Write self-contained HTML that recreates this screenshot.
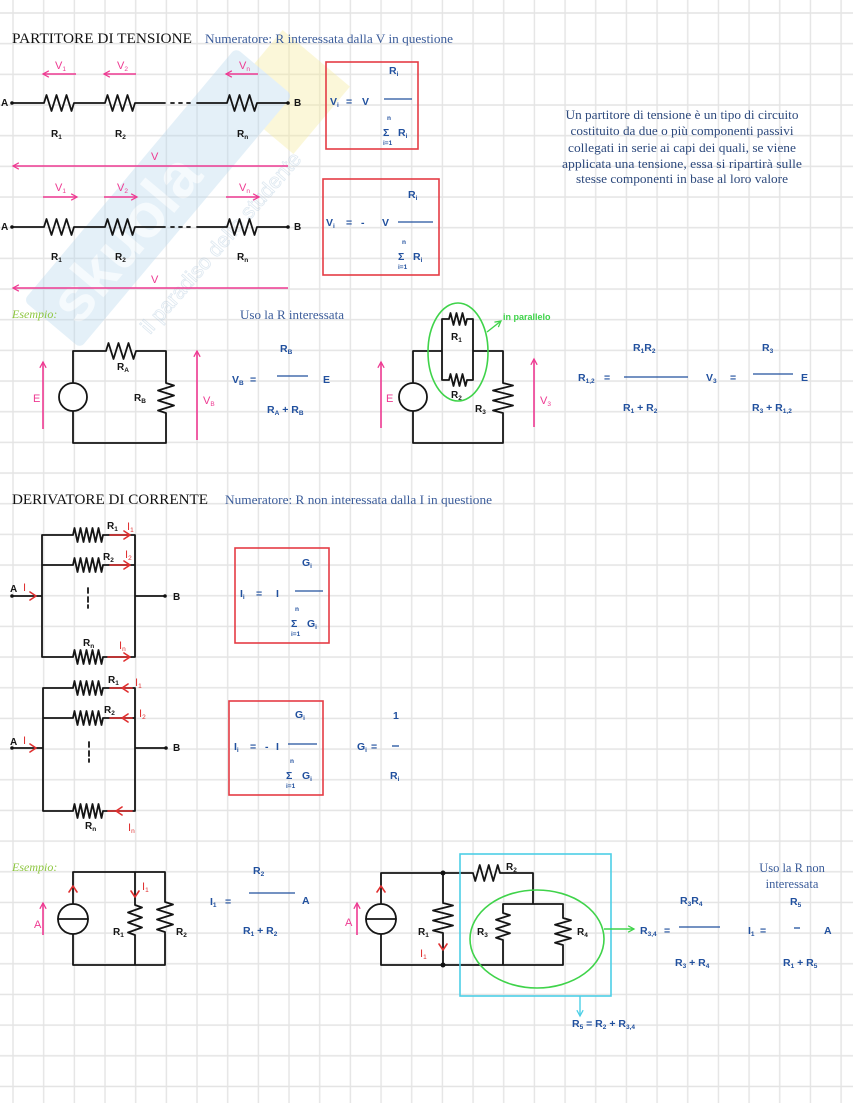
<!DOCTYPE html>
<html><head><meta charset="utf-8"><style>
html,body{margin:0;padding:0;background:#fff;}
svg{display:block;}
.w{fill:none;stroke:#151515;stroke-width:1.8;stroke-linejoin:round;stroke-linecap:round}
.t{font-family:"Liberation Sans",sans-serif;font-weight:bold;font-size:10px;fill:#151515}
.b{font-family:"Liberation Sans",sans-serif;font-weight:bold;font-size:10.5px;fill:#21509e}
.p{font-family:"Liberation Sans",sans-serif;font-size:11px;fill:#ee3a92}
.r{font-family:"Liberation Sans",sans-serif;font-size:11px;fill:#e03030}
.s{font-size:6.5px}
.ser{font-family:"Liberation Serif",serif;font-weight:normal}
.bar{stroke:#21509e;stroke-width:1.3;fill:none}
.pl{stroke:#ee3a92;stroke-width:1.6;fill:none}
.rl{stroke:#e03030;stroke-width:1.6;fill:none;stroke-linejoin:round;stroke-linecap:round}
.box{fill:none;stroke:#e43c45;stroke-width:1.6}
</style></head><body>
<svg width="853" height="1103" viewBox="0 0 853 1103" xmlns="http://www.w3.org/2000/svg">
<defs>
<pattern id="g" x="-2.33" y="-2.33" width="30.67" height="30.67" patternUnits="userSpaceOnUse">
<path d="M15.33,0 V30.67 M0,15.33 H30.67" stroke="#e4e4e4" stroke-width="1.4" fill="none"/>
</pattern>
<marker id="ap" viewBox="0 0 10 10" refX="8.5" refY="5" markerWidth="9" markerHeight="9" markerUnits="userSpaceOnUse" orient="auto"><path d="M2,1.5 L8.5,5 L2,8.5" fill="none" stroke="#ee3a92" stroke-width="1.4"/></marker>
<marker id="ag" viewBox="0 0 10 10" refX="8.5" refY="5" markerWidth="9" markerHeight="9" markerUnits="userSpaceOnUse" orient="auto"><path d="M2,1.5 L8.5,5 L2,8.5" fill="none" stroke="#3fd34a" stroke-width="1.4"/></marker>
<marker id="ac" viewBox="0 0 10 10" refX="8.5" refY="5" markerWidth="9" markerHeight="9" markerUnits="userSpaceOnUse" orient="auto"><path d="M2,1.5 L8.5,5 L2,8.5" fill="none" stroke="#4dcfe6" stroke-width="1.4"/></marker>
</defs>
<rect width="853" height="1103" fill="#fff"/>
<rect width="853" height="1103" fill="url(#g)"/>

<!-- watermark -->
<g opacity="0.38">
<g transform="translate(288,92) rotate(-50)"><rect x="-44" y="-44" width="88" height="88" fill="#f7ec9c"/></g>
<g transform="translate(158,198) rotate(-50)">
<rect x="-165" y="-37" width="330" height="74" rx="6" fill="#b9d9ee"/>
<text x="-150" y="22" font-size="62" font-weight="bold" font-family="Liberation Sans, sans-serif" fill="#e6f2fa">skuola</text>
</g>
<text transform="translate(150,335) rotate(-49)" font-size="21" font-family="Liberation Sans, sans-serif" fill="none" stroke="#aac4da" stroke-width="0.8">il paradiso dello studente</text>
</g>

<!-- ================= PARTITORE ================= -->
<text class="ser" x="12" y="43" font-size="15" fill="#111" textLength="180" lengthAdjust="spacingAndGlyphs">PARTITORE DI TENSIONE</text>
<text class="ser" x="205" y="43" font-size="12.5" fill="#3b5c9a" textLength="248" lengthAdjust="spacingAndGlyphs">Numeratore: R interessata dalla V in questione</text>

<!-- row 1 -->
<path class="w" d="M12,103 H44 l2.5,-8 l5,16 l5,-16 l5,16 l5,-16 l5,16 l2.5,-8 H105 l2.5,-8 l5,16 l5,-16 l5,16 l5,-16 l5,16 l2.5,-8 H165 M171,103 h3 M179,103 h3 M187,103 h3 M197,103 H227 l2.5,-8 l5,16 l5,-16 l5,16 l5,-16 l5,16 l2.5,-8 H288"/>
<circle cx="12" cy="103" r="1.8" fill="#111"/><circle cx="288" cy="103" r="1.8" fill="#111"/>
<text class="t" x="1" y="106" font-size="8">A</text><text class="t" x="294" y="106" font-size="8">B</text>
<text class="t" x="51" y="137">R<tspan class="s" dy="2">1</tspan></text>
<text class="t" x="115" y="137">R<tspan class="s" dy="2">2</tspan></text>
<text class="t" x="237" y="137">R<tspan class="s" dy="2">n</tspan></text>
<path class="pl" d="M76,74 H43" marker-end="url(#ap)"/>
<path class="pl" d="M136,74 H104" marker-end="url(#ap)"/>
<path class="pl" d="M258,74 H226" marker-end="url(#ap)"/>
<text class="p" x="55" y="69">V<tspan class="s" dy="2">1</tspan></text>
<text class="p" x="117" y="69">V<tspan class="s" dy="2">2</tspan></text>
<text class="p" x="239" y="69">V<tspan class="s" dy="2">n</tspan></text>
<path class="pl" d="M288,166 H13" marker-end="url(#ap)"/>
<text class="p" x="151" y="160">V</text>

<!-- row 2 -->
<path class="pl" d="M43,197 H77" marker-end="url(#ap)"/>
<path class="pl" d="M104,197 H137" marker-end="url(#ap)"/>
<path class="pl" d="M226,197 H259" marker-end="url(#ap)"/>
<text class="p" x="55" y="191">V<tspan class="s" dy="2">1</tspan></text>
<text class="p" x="117" y="191">V<tspan class="s" dy="2">2</tspan></text>
<text class="p" x="239" y="191">V<tspan class="s" dy="2">n</tspan></text>
<path class="w" d="M12,227 H44 l2.5,-8 l5,16 l5,-16 l5,16 l5,-16 l5,16 l2.5,-8 H105 l2.5,-8 l5,16 l5,-16 l5,16 l5,-16 l5,16 l2.5,-8 H165 M171,227 h3 M179,227 h3 M187,227 h3 M197,227 H227 l2.5,-8 l5,16 l5,-16 l5,16 l5,-16 l5,16 l2.5,-8 H288"/>
<circle cx="12" cy="227" r="1.8" fill="#111"/><circle cx="288" cy="227" r="1.8" fill="#111"/>
<text class="t" x="1" y="230" font-size="8">A</text><text class="t" x="294" y="230" font-size="8">B</text>
<text class="t" x="51" y="260">R<tspan class="s" dy="2">1</tspan></text>
<text class="t" x="115" y="260">R<tspan class="s" dy="2">2</tspan></text>
<text class="t" x="237" y="260">R<tspan class="s" dy="2">n</tspan></text>
<path class="pl" d="M288,288 H13" marker-end="url(#ap)"/>
<text class="p" x="151" y="283">V</text>

<!-- box 1 -->
<rect class="box" x="326" y="62" width="92" height="87"/>
<text class="b" x="330" y="105">V<tspan class="s" dy="2">i</tspan><tspan dy="-2" x="346">=</tspan><tspan x="362">V</tspan></text>
<path class="bar" d="M384,99 H412"/>
<text class="b" x="389" y="74">R<tspan class="s" dy="2">i</tspan></text>
<text class="b" x="383" y="136" font-size="14">Σ</text>
<text class="b s" x="387" y="120">n</text>
<text class="b s" x="383" y="145">i=1</text>
<text class="b" x="398" y="136">R<tspan class="s" dy="2">i</tspan></text>

<!-- box 2 -->
<rect class="box" x="323" y="179" width="116" height="96"/>
<text class="b" x="326" y="226">V<tspan class="s" dy="2">i</tspan><tspan dy="-2" x="346">=</tspan><tspan x="361">-</tspan><tspan x="382">V</tspan></text>
<path class="bar" d="M398,222 H433"/>
<text class="b" x="408" y="198">R<tspan class="s" dy="2">i</tspan></text>
<text class="b" x="398" y="260" font-size="14">Σ</text>
<text class="b s" x="402" y="244">n</text>
<text class="b s" x="398" y="269">i=1</text>
<text class="b" x="413" y="260">R<tspan class="s" dy="2">i</tspan></text>

<!-- description -->
<g class="ser" font-size="12.5" fill="#2e4a7d" text-anchor="middle">
<text x="682" y="119" textLength="233" lengthAdjust="spacingAndGlyphs">Un partitore di tensione è un tipo di circuito</text>
<text x="682" y="135" textLength="223" lengthAdjust="spacingAndGlyphs">costituito da due o più componenti passivi</text>
<text x="682" y="152" textLength="228" lengthAdjust="spacingAndGlyphs">collegati in serie ai capi dei quali, se viene</text>
<text x="682" y="168" textLength="240" lengthAdjust="spacingAndGlyphs">applicata una tensione, essa si ripartirà sulle</text>
<text x="682" y="183" textLength="212" lengthAdjust="spacingAndGlyphs">stesse componenti in base al loro valore</text>
</g>

<!-- Esempio 1 -->
<text class="ser" x="12" y="318" font-size="12" font-style="italic" fill="#8dc63f">Esempio:</text>
<text class="ser" x="240" y="319" font-size="12.5" fill="#3b5c9a" textLength="104" lengthAdjust="spacingAndGlyphs">Uso la R interessata</text>

<path class="w" d="M73,383 V351 H106 l2.5,-8 l5,16 l5,-16 l5,16 l5,-16 l5,16 l2.5,-8 H166 V383 l8,2.5 l-16,5 l16,5 l-16,5 l16,5 l-16,5 l8,2.5 V443 H73 V411"/>
<circle cx="73" cy="397" r="14" fill="#fff" stroke="#151515" stroke-width="1.8"/>
<text class="t" x="117" y="370" font-size="9">R<tspan class="s" dy="2">A</tspan></text>
<text class="t" x="134" y="401">R<tspan class="s" dy="2">B</tspan></text>
<path class="pl" d="M43,429 V362" marker-end="url(#ap)"/>
<text class="p" x="33" y="402">E</text>
<path class="pl" d="M197,440 V351" marker-end="url(#ap)"/>
<text class="p" x="203" y="404">V<tspan class="s" dy="2">B</tspan></text>
<text class="b" x="232" y="383">V<tspan class="s" dy="2">B</tspan><tspan dy="-2" x="250">=</tspan></text>
<path class="bar" d="M277,376 H308"/>
<text class="b" x="280" y="352">R<tspan class="s" dy="2">B</tspan></text>
<text class="b" x="323" y="383">E</text>
<text class="b" x="267" y="413">R<tspan class="s" dy="2">A</tspan><tspan dy="-2"> + R</tspan><tspan class="s" dy="2">B</tspan></text>

<!-- circuit 2 -->
<path class="w" d="M413,383 V351 H442 M473,351 H503 V383 l10,2.5 l-20,5 l20,5 l-20,5 l20,5 l-20,5 l10,2.5 V443 H413 V411 M442,319 V380 M473,319 V380 M442,319 H449 l1.5,-6 l3,12 l3,-12 l3,12 l3,-12 l3,12 l1.5,-6 H473 M442,380 H449 l1.5,-6 l3,12 l3,-12 l3,12 l3,-12 l3,12 l1.5,-6 H473"/>
<circle cx="413" cy="397" r="14" fill="#fff" stroke="#151515" stroke-width="1.8"/>
<text class="t" x="451" y="340" font-size="9">R<tspan class="s" dy="2">1</tspan></text>
<text class="t" x="451" y="398" font-size="9">R<tspan class="s" dy="2">2</tspan></text>
<text class="t" x="475" y="412">R<tspan class="s" dy="2">3</tspan></text>
<ellipse cx="458" cy="352" rx="30" ry="49" fill="none" stroke="#3fd34a" stroke-width="1.6"/>
<path d="M487,332 L501,321" stroke="#3fd34a" stroke-width="1.4" fill="none" marker-end="url(#ag)"/>
<text x="503" y="320" font-family="Liberation Sans, sans-serif" font-weight="bold" font-size="9" fill="#3fd34a">in parallelo</text>
<path class="pl" d="M381,428 V362" marker-end="url(#ap)"/>
<text class="p" x="386" y="402">E</text>
<path class="pl" d="M534,427 V359" marker-end="url(#ap)"/>
<text class="p" x="540" y="404">V<tspan class="s" dy="2">3</tspan></text>
<text class="b" x="578" y="381">R<tspan class="s" dy="2">1,2</tspan><tspan dy="-2" x="604">=</tspan></text>
<path class="bar" d="M624,377 H688"/>
<text class="b" x="633" y="351">R<tspan class="s" dy="2">1</tspan><tspan dy="-2">R</tspan><tspan class="s" dy="2">2</tspan></text>
<text class="b" x="623" y="411">R<tspan class="s" dy="2">1</tspan><tspan dy="-2"> + R</tspan><tspan class="s" dy="2">2</tspan></text>
<text class="b" x="706" y="381">V<tspan class="s" dy="2">3</tspan><tspan dy="-2" x="730">=</tspan></text>
<path class="bar" d="M753,374 H793"/>
<text class="b" x="762" y="351">R<tspan class="s" dy="2">3</tspan></text>
<text class="b" x="801" y="381">E</text>
<text class="b" x="752" y="411">R<tspan class="s" dy="2">3</tspan><tspan dy="-2"> + R</tspan><tspan class="s" dy="2">1,2</tspan></text>

<!-- ================= DERIVATORE ================= -->
<text class="ser" x="12" y="504" font-size="15" fill="#111" textLength="196" lengthAdjust="spacingAndGlyphs">DERIVATORE DI CORRENTE</text>
<text class="ser" x="225" y="504" font-size="12.5" fill="#3b5c9a" textLength="267" lengthAdjust="spacingAndGlyphs">Numeratore: R non interessata dalla I in questione</text>

<!-- circuit A -->
<path class="w" d="M42,535 V657 M135,535 V657 M42,535 H73 l1.5,-7 l3,14 l3,-14 l3,14 l3,-14 l3,14 l3,-14 l3,14 l3,-14 l3,14 l1.5,-7 H135 M42,565 H73 l1.5,-7 l3,14 l3,-14 l3,14 l3,-14 l3,14 l3,-14 l3,14 l3,-14 l3,14 l1.5,-7 H135 M42,657 H73 l1.5,-7 l3,14 l3,-14 l3,14 l3,-14 l3,14 l3,-14 l3,14 l3,-14 l3,14 l1.5,-7 H135 M12,596 H42 M135,596 H165 M88,588 v5 M88,597 v5 M88,605 v3"/>
<path class="rl" d="M110,535 H130 M124,531 L130,535 L124,539 M110,565 H130 M124,561 L130,565 L124,569 M108,657 H130 M124,653 L130,657 L124,661 M30,592 L36,596 L30,600"/>
<circle cx="12" cy="596" r="1.8" fill="#111"/><circle cx="165" cy="596" r="1.8" fill="#111"/>
<text class="t" x="10" y="592" font-size="8">A</text><text class="r" x="23" y="591" font-size="10">I</text>
<text class="t" x="173" y="600" font-size="8">B</text>
<text class="t" x="107" y="529" font-size="9">R<tspan class="s" dy="2">1</tspan></text>
<text class="r" x="127" y="530" font-size="10">I<tspan class="s" dy="2">1</tspan></text>
<text class="t" x="103" y="560" font-size="9">R<tspan class="s" dy="2">2</tspan></text>
<text class="r" x="125" y="558" font-size="10">I<tspan class="s" dy="2">2</tspan></text>
<text class="t" x="83" y="646" font-size="9">R<tspan class="s" dy="2">n</tspan></text>
<text class="r" x="119" y="649" font-size="10">I<tspan class="s" dy="2">n</tspan></text>

<rect class="box" x="235" y="548" width="94" height="95"/>
<text class="b" x="240" y="597">I<tspan class="s" dy="2">i</tspan><tspan dy="-2" x="256">=</tspan><tspan x="276">I</tspan></text>
<path class="bar" d="M295,591 H323"/>
<text class="b" x="302" y="566">G<tspan class="s" dy="2">i</tspan></text>
<text class="b" x="291" y="627" font-size="14">Σ</text>
<text class="b s" x="295" y="611">n</text>
<text class="b s" x="291" y="636">i=1</text>
<text class="b" x="307" y="627">G<tspan class="s" dy="2">i</tspan></text>

<!-- circuit B -->
<path class="w" d="M43,688 V811 M135,688 V811 M43,688 H73 l1.5,-7 l3,14 l3,-14 l3,14 l3,-14 l3,14 l3,-14 l3,14 l3,-14 l3,14 l1.5,-7 H135 M43,718 H73 l1.5,-7 l3,14 l3,-14 l3,14 l3,-14 l3,14 l3,-14 l3,14 l3,-14 l3,14 l1.5,-7 H135 M43,811 H73 l1.5,-7 l3,14 l3,-14 l3,14 l3,-14 l3,14 l3,-14 l3,14 l3,-14 l3,14 l1.5,-7 H135 M12,748 H43 M135,748 H166 M89,742 v5 M89,751 v5 M89,759 v3"/>
<path class="rl" d="M110,688 H132 M128,684 L122,688 L128,692 M110,718 H132 M128,714 L122,718 L128,722 M108,811 H132 M122,807 L116,811 L122,815 M30,744 L36,748 L30,752"/>
<circle cx="12" cy="748" r="1.8" fill="#111"/><circle cx="166" cy="748" r="1.8" fill="#111"/>
<text class="t" x="10" y="745" font-size="8">A</text><text class="r" x="23" y="744" font-size="10">I</text>
<text class="t" x="173" y="751" font-size="8">B</text>
<text class="t" x="108" y="683" font-size="9">R<tspan class="s" dy="2">1</tspan></text>
<text class="r" x="135" y="686" font-size="10">I<tspan class="s" dy="2">1</tspan></text>
<text class="t" x="104" y="713" font-size="9">R<tspan class="s" dy="2">2</tspan></text>
<text class="r" x="139" y="717" font-size="10">I<tspan class="s" dy="2">2</tspan></text>
<text class="t" x="85" y="829" font-size="9">R<tspan class="s" dy="2">n</tspan></text>
<text class="r" x="128" y="831" font-size="10">I<tspan class="s" dy="2">n</tspan></text>

<rect class="box" x="229" y="701" width="94" height="94"/>
<text class="b" x="234" y="750">I<tspan class="s" dy="2">i</tspan><tspan dy="-2" x="250">=</tspan><tspan x="265">-</tspan><tspan x="276">I</tspan></text>
<path class="bar" d="M288,744 H317"/>
<text class="b" x="295" y="718">G<tspan class="s" dy="2">i</tspan></text>
<text class="b" x="286" y="779" font-size="14">Σ</text>
<text class="b s" x="290" y="763">n</text>
<text class="b s" x="286" y="788">i=1</text>
<text class="b" x="302" y="779">G<tspan class="s" dy="2">i</tspan></text>

<text class="b" x="357" y="750">G<tspan class="s" dy="2">i</tspan><tspan dy="-2" x="371">=</tspan></text>
<text class="b" x="393" y="719" font-size="9">1</text>
<path class="bar" d="M392,746 H399"/>
<text class="b" x="390" y="779">R<tspan class="s" dy="2">i</tspan></text>

<!-- Esempio 2 -->
<text class="ser" x="12" y="871" font-size="12" font-style="italic" fill="#8dc63f">Esempio:</text>

<path class="w" d="M73,904 V872 H165 V902 l8,2.5 l-16,5 l16,5 l-16,5 l16,5 l-16,5 l8,2.5 V965 H73 V934 M135,872 V905 l7,2.5 l-14,5 l14,5 l-14,5 l14,5 l-14,5 l7,2.5 V965"/>
<circle cx="73" cy="919" r="15" fill="#fff" stroke="#151515" stroke-width="1.8"/>
<path class="w" d="M58,919 H88"/>
<path class="rl" d="M69,892 L73,886 L77,892 M131,891 L135,897 L139,891"/>
<text class="r" x="142" y="890" font-size="10">I<tspan class="s" dy="2">1</tspan></text>
<text class="t" x="113" y="935">R<tspan class="s" dy="2">1</tspan></text>
<text class="t" x="176" y="935">R<tspan class="s" dy="2">2</tspan></text>
<path class="pl" d="M43,935 V903" marker-end="url(#ap)"/>
<text class="p" x="34" y="928">A</text>
<text class="b" x="210" y="905">I<tspan class="s" dy="2">1</tspan><tspan dy="-2" x="225">=</tspan></text>
<path class="bar" d="M249,893 H295"/>
<text class="b" x="253" y="874">R<tspan class="s" dy="2">2</tspan></text>
<text class="b" x="302" y="904">A</text>
<text class="b" x="243" y="934">R<tspan class="s" dy="2">1</tspan><tspan dy="-2"> + R</tspan><tspan class="s" dy="2">2</tspan></text>

<!-- circuit 2 ex 2 -->
<path class="w" d="M381,904 V873 H473 l2.25,8 l4.5,-16 l4.5,16 l4.5,-16 l4.5,16 l4.5,-16 l2.25,8 H533 V904 M503,904 H563 M503,904 V913 l7,2.25 l-14,4.5 l14,4.5 l-14,4.5 l14,4.5 l-14,4.5 l7,2.25 V965 M563,904 V918 l8,2.25 l-16,4.5 l16,4.5 l-16,4.5 l16,4.5 l-16,4.5 l8,2.25 V965 M381,934 V965 H563 M443,873 V903 l10,2.5 l-20,5 l20,5 l-20,5 l20,5 l-20,5 l10,2.5 V965"/>
<circle cx="443" cy="873" r="2.5" fill="#111"/><circle cx="443" cy="965" r="2.5" fill="#111"/>
<circle cx="381" cy="919" r="15" fill="#fff" stroke="#151515" stroke-width="1.8"/>
<path class="w" d="M366,919 H396"/>
<path class="rl" d="M377,892 L381,886 L385,892 M439,944 L443,950 L447,944"/>
<text class="t" x="418" y="935">R<tspan class="s" dy="2">1</tspan></text>
<text class="r" x="420" y="957" font-size="10">I<tspan class="s" dy="2">1</tspan></text>
<text class="t" x="506" y="870">R<tspan class="s" dy="2">2</tspan></text>
<text class="t" x="477" y="935">R<tspan class="s" dy="2">3</tspan></text>
<text class="t" x="577" y="935">R<tspan class="s" dy="2">4</tspan></text>
<path class="pl" d="M357,935 V903" marker-end="url(#ap)"/>
<text class="p" x="345" y="926">A</text>
<rect x="460" y="854" width="151" height="142" fill="none" stroke="#4dcfe6" stroke-width="1.6"/>
<path d="M580,996 V1016" stroke="#4dcfe6" stroke-width="1.4" fill="none" marker-end="url(#ac)"/>
<ellipse cx="537" cy="939" rx="67" ry="49" fill="none" stroke="#3fd34a" stroke-width="1.6"/>
<path d="M604,929 H634" stroke="#3fd34a" stroke-width="1.4" fill="none" marker-end="url(#ag)"/>

<text class="b" x="640" y="934">R<tspan class="s" dy="2">3,4</tspan><tspan dy="-2" x="664">=</tspan></text>
<path class="bar" d="M679,927 H720"/>
<text class="b" x="680" y="904">R<tspan class="s" dy="2">3</tspan><tspan dy="-2">R</tspan><tspan class="s" dy="2">4</tspan></text>
<text class="b" x="675" y="966">R<tspan class="s" dy="2">3</tspan><tspan dy="-2"> + R</tspan><tspan class="s" dy="2">4</tspan></text>
<text class="b" x="748" y="934">I<tspan class="s" dy="2">1</tspan><tspan dy="-2" x="760">=</tspan></text>
<path class="bar" d="M794,928 H800"/>
<text class="b" x="824" y="934">A</text>
<text class="b" x="790" y="905">R<tspan class="s" dy="2">5</tspan></text>
<text class="b" x="783" y="966">R<tspan class="s" dy="2">1</tspan><tspan dy="-2"> + R</tspan><tspan class="s" dy="2">5</tspan></text>
<g class="ser" font-size="12.5" fill="#3b5c9a" text-anchor="middle">
<text x="792" y="872">Uso la R non</text>
<text x="792" y="888">interessata</text>
</g>
<text class="b" x="572" y="1027">R<tspan class="s" dy="2">5</tspan><tspan dy="-2"> = R</tspan><tspan class="s" dy="2">2</tspan><tspan dy="-2"> + R</tspan><tspan class="s" dy="2">3,4</tspan></text>
</svg>
</body></html>
